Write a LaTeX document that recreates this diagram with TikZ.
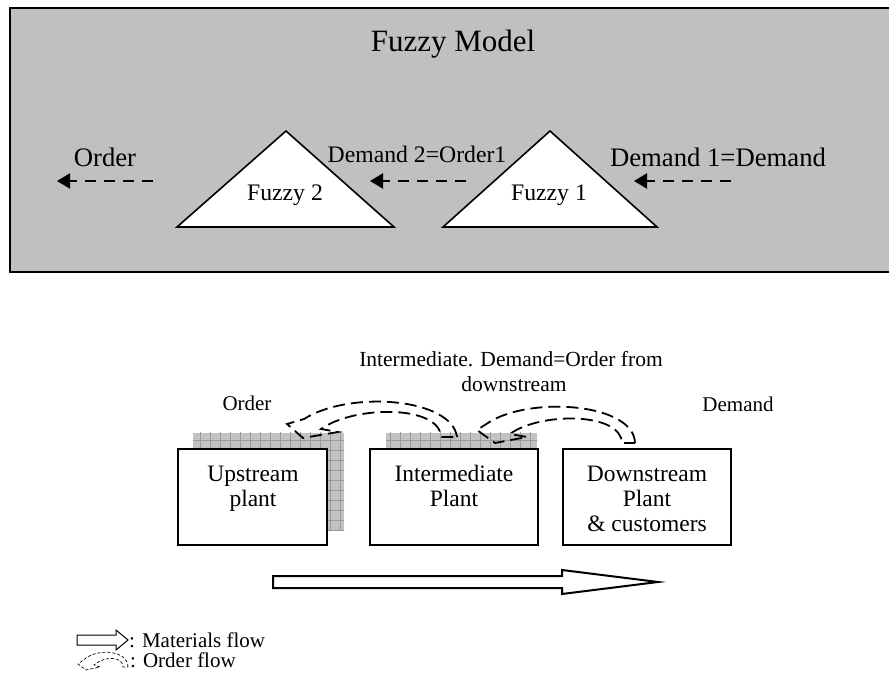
\documentclass[tikz,border=0pt]{standalone}
\usepackage{fontspec}
\setmainfont{Liberation Serif}
\usetikzlibrary{arrows.meta}
\definecolor{topgray}{HTML}{C0C0C0}
\definecolor{shadefill}{HTML}{C2C2C2}
\definecolor{shadeline}{HTML}{9A9A9A}
\begin{document}
\begin{tikzpicture}[x=1pt,y=-1pt,
  fsz/.style={font=\fontsize{#1}{#1}\selectfont},
  lbl/.style={inner sep=0pt, anchor=base},
  toparrow/.style={line width=2.2pt, dash pattern=on 11pt off 8pt, -{Triangle[length=13pt,width=15pt]}},
  plantbox/.style={draw, line width=1.6pt, fill=white, inner sep=0pt},
  orderflow/.style={line width=1.8pt, dash pattern=on 12pt off 6pt, line join=miter},
  smallflow/.style={line width=0.7pt, dash pattern=on 3pt off 2pt},
  matflow/.style={line width=2pt, fill=white, line join=miter}
]
\useasboundingbox (0,0) rectangle (889,684);

% ---------- Fuzzy model panel ----------
\draw[line width=2pt, fill=topgray] (10,8) rectangle (900,272);
\node[lbl, fsz=31] (title) at (453,52) {Fuzzy Model};

\draw[line width=1.6pt, fill=white, line join=miter] (177,227) -- (286,131) -- (394,227) -- cycle;
\draw[line width=1.6pt, fill=white, line join=miter] (443,227) -- (550,131) -- (657,227) -- cycle;
\node[lbl, fsz=23.7] (fz2) at (285,201) {Fuzzy 2};
\node[lbl, fsz=23.7] (fz1) at (549,201) {Fuzzy 1};

\node[lbl, fsz=26.7] (ordtop) at (105,167) {Order};
\node[lbl, fsz=23.7] (dem2) at (417,163) {Demand 2=Order1};
\node[lbl, fsz=26.7] (dem1) at (718,167) {Demand 1=Demand};

\coordinate (a1s) at (153,181); \coordinate (a1e) at (57,181);
\coordinate (a2s) at (466,181); \coordinate (a2e) at (370,181);
\coordinate (a3s) at (731,181); \coordinate (a3e) at (634,181);
\draw[toparrow] (a1s) -- (a1e);
\draw[toparrow] (a2s) -- (a2e);
\draw[toparrow] (a3s) -- (a3e);

% ---------- supply chain ----------
\foreach \x/\y in {193/433, 386/433}{
  \begin{scope}
    \clip (\x,\y) rectangle ++(151,97);
    \fill[shadefill] (\x,\y) rectangle ++(151,97);
    \draw[shadeline, line width=0.8pt, step=10pt] (\x-10,\y-10) grid ++(180,120);
  \end{scope}
}
\node[plantbox, minimum width=149pt, minimum height=96pt] (up) at (252.5,497) {};
\node[plantbox, minimum width=168pt, minimum height=96pt] (mid) at (454,497) {};
\node[plantbox, minimum width=168pt, minimum height=96pt] (down) at (647,497) {};

\node[lbl, fsz=23.5] (upt1) at (253,481) {Upstream};
\node[lbl, fsz=23.5] (upt2) at (253,506) {plant};
\node[lbl, fsz=23.5] (midt1) at (454,481) {Intermediate};
\node[lbl, fsz=23.5] (midt2) at (454,506) {Plant};
\node[lbl, fsz=23.5] (dnt1) at (647,481) {Downstream};
\node[lbl, fsz=23.5] (dnt2) at (647,506) {Plant};
\node[lbl, fsz=23.5] (dnt3) at (647,531) {\& customers};

\node[lbl, fsz=21] (ordbot) at (247,410) {Order};
\node[lbl, fsz=21.5] (midl1) at (511,367) {Intermediate. Demand=Order from};
\node[lbl, fsz=21.5] (midl2) at (514,392) {downstream};
\node[lbl, fsz=21] (dembot) at (738,412) {Demand};

% order flow arrows (hollow, dashed)
\draw[orderflow] (457,437) .. controls (452,398) and (350,390) .. (304,419)
  -- (287,424) -- (303,438) -- (338,432) -- (321,429)
  .. controls (355,405) and (440,405) .. (441,437) -- cycle;
\draw[orderflow] (635,443) .. controls (634,404) and (535,396) .. (491,421)
  -- (477,430) -- (495,443) -- (527,437) -- (510,434)
  .. controls (540,412) and (621,412) .. (622,443) -- cycle;

% materials flow arrow
\draw[matflow] (273,576) -- (562,576) -- (562,570) -- (658,582) -- (562,594) -- (562,588) -- (273,588) -- cycle;

% ---------- legend ----------
\draw[line width=1pt, fill=white, line join=miter] (77,635) -- (116,635) -- (116,630) -- (128,640) -- (116,650) -- (116,645) -- (77,645) -- cycle;
\node[lbl, fsz=21, anchor=base west] (legm) at (129,647) {: Materials flow};
\draw[smallflow] (128,667) .. controls (128,651) and (100,648) .. (86,658)
  -- (78,664) -- (86,670) -- (100,667) -- (94,665)
  .. controls (104,656) and (123,656) .. (123,667) -- cycle;
\node[lbl, fsz=21, anchor=base west] (lego) at (130,667) {: Order flow};
\end{tikzpicture}
\end{document}
